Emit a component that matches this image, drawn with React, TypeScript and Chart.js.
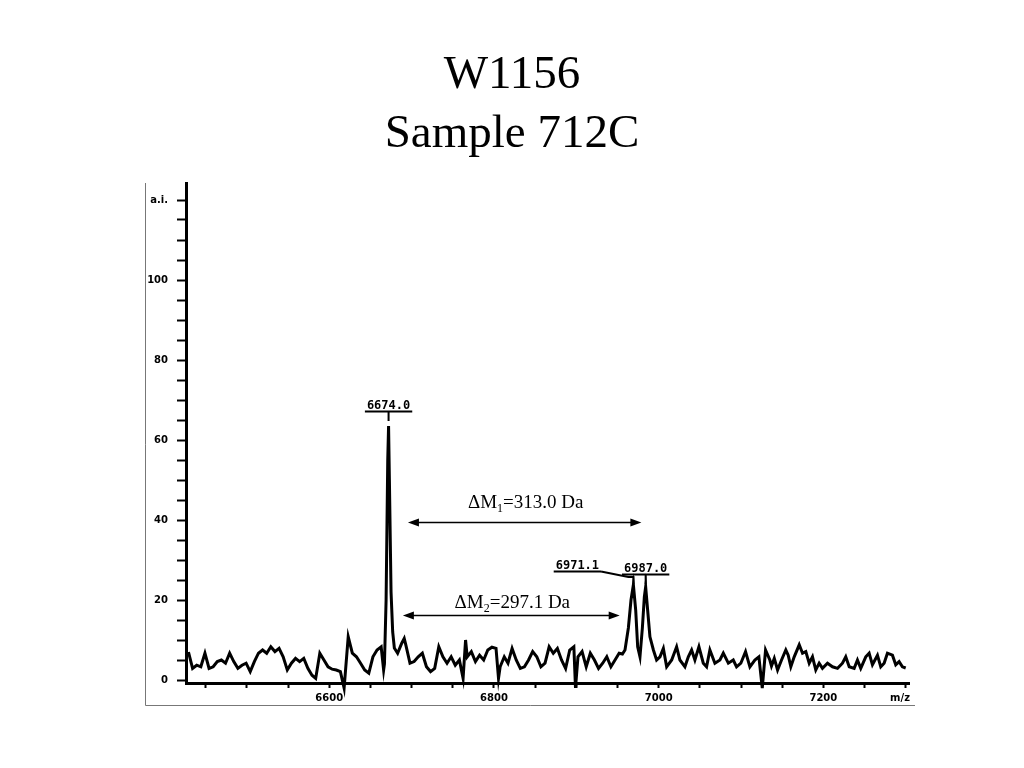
import React, { useEffect, useRef } from 'react';
import { Chart, registerables } from 'chart.js';

Chart.register(...registerables);

const titleLines = ['W1156', 'Sample 712C'];

const mzValues = [
  6429, 6434, 6439, 6444, 6449, 6454, 6459, 6464, 6469, 6474, 6479, 6484, 6489, 6494, 6499, 6504,
  6509, 6514, 6519, 6524, 6529, 6534, 6539, 6544, 6549, 6554, 6559, 6564, 6569, 6574, 6579, 6583.5,
  6588.5, 6593.5, 6598.5, 6603.5, 6608.5, 6613.5, 6618, 6623, 6628, 6633, 6638, 6643, 6648, 6653,
  6658, 6663, 6666, 6667, 6669, 6671, 6672, 6673, 6675, 6677, 6679, 6683, 6688, 6691, 6693, 6698,
  6703, 6708, 6713, 6718, 6723, 6728, 6733, 6738, 6743, 6748, 6753, 6758, 6762.5, 6765.5, 6767.5,
  6772.5, 6777.5, 6782.5, 6787.5, 6792.5, 6797.5, 6802.5, 6805.5, 6807.5, 6812.5, 6817, 6822, 6827,
  6832, 6837, 6842, 6847, 6852, 6857, 6862, 6867, 6872, 6877, 6882, 6887, 6892, 6897, 6899, 6902,
  6907, 6912, 6917, 6922, 6927, 6932, 6937, 6942, 6947, 6952, 6956, 6959.1, 6963.2, 6966.4, 6969.3,
  6972.1, 6974.5, 6977.3, 6980.2, 6982.6, 6984.2, 6986.6, 6989.4, 6993.6, 6997.5, 7001.6, 7005.7,
  7009.7, 7015.8, 7021.8, 7025.8, 7031.9, 7036, 7040, 7044, 7048.9, 7054.2, 7058.2, 7062.2, 7068.3,
  7074.4, 7078.5, 7084.6, 7090.6, 7094.6, 7099.8, 7105.5, 7110.8, 7116.8, 7121.7, 7125.8, 7129.8,
  7135, 7137, 7140.4, 7144.4, 7149.2, 7154.4, 7157.3, 7160.5, 7164.6, 7170.7, 7174.7, 7178.7, 7182.8,
  7186.8, 7190.8, 7194.9, 7198.9, 7205, 7211.1, 7217.2, 7223.2, 7227.2, 7231.4, 7237.4, 7241.4,
  7245.4, 7251.5, 7255.6, 7259.6, 7265.7, 7269.7, 7273.8, 7277.8, 7283.9, 7287.9, 7292, 7296, 7300,
];

const intensity = [
  7, 2.9, 3.7, 3.3, 6.7, 2.9, 3.3, 4.6, 5, 4.2, 6.7, 4.6, 2.9, 3.7, 4.2, 2.1,
  4.6, 6.7, 7.5, 6.7, 8.3, 7.1, 7.9, 5.8, 2.5, 4.2, 5.4, 4.6, 5.4, 2.9, 1.2, 0.4,
  6.7, 5, 3.3, 2.7, 2.5, 2.1, -2, 10.8, 6.7, 5.8, 4.2, 2.5, 1.7, 5.8,
  7.5, 8.3, 2.5, 4, 20, 55, 63.5, 50, 22, 12, 8, 6.7, 9.2, 10.4, 8.7, 4.2,
  4.6, 5.8, 6.7, 3.3, 2.1, 2.9, 8.3, 5.8, 4.2, 5.8, 3.7, 5, 0.4, 10, 5.8,
  7.1, 4.6, 6.2, 5, 7.5, 8.2, 7.9, 0.4, 3.3, 5.8, 4.2, 7.9, 5,
  2.9, 3.3, 5, 7.1, 5.8, 3.3, 4.2, 8.3, 6.7, 7.9, 5, 2.9, 7.5, 8.3, -2, 5.8,
  7.1, 3.3, 6.7, 5, 2.9, 4.2, 5.8, 3.3, 5, 6.7, 6.5, 7.5, 13, 20, 23.8,
  17.5, 8.3, 5.8, 13, 20.8, 23.3, 17.5, 10.8, 7.5, 5, 5.8, 7.9,
  3.3, 5, 8.3, 5, 3.3, 5.8, 7.5, 5, 8.3, 4.2, 3.3, 7.5, 4.2,
  5, 6.7, 4.2, 5, 3.3, 4.2, 7.1, 3.3, 5, 5.8, -2, 7.5,
  5, 3.5, 5.4, 2.5, 5, 7.5, 6.2, 3.3, 5.8, 8.8, 6.7, 7.1, 4.2,
  5.8, 2.5, 4.2, 2.9, 4.2, 3.3, 2.9, 4.2, 5.8, 3.3, 2.9, 5,
  2.9, 5.8, 6.7, 3.8, 6.2, 3.3, 4.2, 6.7, 6.2, 3.8, 4.6, 3.3, 3,
];

const yTickValues = [0, 5, 10, 15, 20, 25, 30, 35, 40, 45, 50, 55, 60, 65, 70, 75, 80, 85, 90, 95, 100, 105, 110, 115, 120];
const yLabelValues = [0, 20, 40, 60, 80, 100];
const yUnitLabel = 'a.i.';
const yUnitValue = 120;

const xTickValues = [6450, 6500, 6550, 6600, 6650, 6700, 6750, 6800, 6850, 6900, 6950, 7000, 7050, 7100, 7150, 7200, 7250, 7300];
const xLabelValues = [6600, 6800, 7000, 7200];
const xUnitLabel = 'm/z';

const peakPositions = [6672, 6969.3, 6984.2];
const peakTexts = ['6674.0', '6971.1', '6987.0'];

const deltaFrom = [6695.5, 6689.4];
const deltaTo = [6979, 6952.7];
const deltaLevel = [39.6, 16.25];
const deltaSubs = ['1', '2'];
const deltaValues = ['313.0', '297.1'];

const SERIF = "'Liberation Serif', 'Times New Roman', serif";
const TICKFONT = "'DejaVu Sans', 'Liberation Sans', sans-serif";
const PEAKFONT = "'DejaVu Sans Mono', 'Liberation Mono', monospace";

const annotPlugin = {
  id: 'annot',
  beforeDraw(chart: any) {
    const ctx = chart.ctx;
    const ca = chart.chartArea;
    ctx.save();
    ctx.strokeStyle = '#777';
    ctx.lineWidth = 1;
    ctx.beginPath();
    ctx.moveTo(145.5, ca.top);
    ctx.lineTo(145.5, 705.5);
    ctx.lineTo(915, 705.5);
    ctx.stroke();

    // title, centred on the page
    ctx.fillStyle = '#000';
    ctx.font = `47px ${SERIF}`;
    ctx.textAlign = 'center';
    ctx.textBaseline = 'alphabetic';
    ctx.fillText(titleLines[0], 512, 88);
    ctx.fillText(titleLines[1], 512, 147);
    ctx.restore();
  },
  afterDraw(chart: any) {
    const ctx = chart.ctx;
    const xs = chart.scales.x;
    const ys = chart.scales.y;
    const ca = chart.chartArea;
    ctx.save();

    // m/z unit label
    ctx.fillStyle = '#000';
    ctx.font = `bold 10px ${TICKFONT}`;
    ctx.textAlign = 'center';
    ctx.textBaseline = 'middle';
    ctx.fillText(xUnitLabel, ca.right - 9, 698);

    // delta arrows
    for (let i = 0; i < deltaFrom.length; i++) {
      const x1 = xs.getPixelForValue(deltaFrom[i]);
      const x2 = xs.getPixelForValue(deltaTo[i]);
      const y = Math.round(ys.getPixelForValue(deltaLevel[i])) + 0.5;
      ctx.strokeStyle = '#000';
      ctx.lineWidth = 1.5;
      ctx.beginPath();
      ctx.moveTo(x1 + 6, y);
      ctx.lineTo(x2 - 6, y);
      ctx.stroke();
      ctx.fillStyle = '#000';
      ctx.beginPath();
      ctx.moveTo(x1, y);
      ctx.lineTo(x1 + 11, y - 4);
      ctx.lineTo(x1 + 11, y + 4);
      ctx.closePath();
      ctx.fill();
      ctx.beginPath();
      ctx.moveTo(x2, y);
      ctx.lineTo(x2 - 11, y - 4);
      ctx.lineTo(x2 - 11, y + 4);
      ctx.closePath();
      ctx.fill();

      const main = 'ΔM';
      const rest = `=${deltaValues[i]} Da`;
      const bigFont = `19px ${SERIF}`;
      const subFont = `12px ${SERIF}`;
      ctx.font = bigFont;
      const w1 = ctx.measureText(main).width;
      const w3 = ctx.measureText(rest).width;
      ctx.font = subFont;
      const w2 = ctx.measureText(deltaSubs[i]).width;
      const total = w1 + w2 + w3;
      const cx = (x1 + x2) / 2 + 1;
      const baseY = i === 0 ? y - 15 : y - 8;
      let tx = cx - total / 2;
      ctx.textAlign = 'left';
      ctx.textBaseline = 'alphabetic';
      ctx.font = bigFont;
      ctx.fillText(main, tx, baseY);
      tx += w1;
      ctx.font = subFont;
      ctx.fillText(deltaSubs[i], tx, baseY + 4);
      tx += w2;
      ctx.font = bigFont;
      ctx.fillText(rest, tx, baseY);
    }

    // peak labels
    ctx.font = `bold 12px ${PEAKFONT}`;
    ctx.textAlign = 'center';
    ctx.textBaseline = 'alphabetic';
    ctx.fillStyle = '#000';
    ctx.strokeStyle = '#000';
    const labelLevels = [67.75, 27.75, 27];
    const labelShift = [0, -56, 0];
    for (let i = 0; i < peakPositions.length; i++) {
      const px = xs.getPixelForValue(peakPositions[i]);
      const ly = ys.getPixelForValue(labelLevels[i]);
      const lx = px + labelShift[i];
      ctx.fillText(peakTexts[i], lx, ly);
      const w = ctx.measureText(peakTexts[i]).width;
      ctx.lineWidth = 2;
      ctx.beginPath();
      ctx.moveTo(lx - w / 2 - 2, ly + 2.5);
      ctx.lineTo(lx + w / 2 + 2, ly + 2.5);
      ctx.stroke();
      ctx.beginPath();
      if (labelShift[i] !== 0) {
        ctx.moveTo(lx + w / 2 + 2, ly + 2.5);
        ctx.lineTo(px - 5, ly + 8);
        ctx.lineTo(px, ly + 8);
        ctx.lineTo(px, ly + 15);
      } else {
        ctx.moveTo(px, ly + 2.5);
        ctx.lineTo(px, ly + 12);
      }
      ctx.stroke();
    }
    ctx.restore();
  },
};

export default function App() {
  const ref = useRef<HTMLCanvasElement | null>(null);
  useEffect(() => {
    if (!ref.current) return;
    const data = mzValues.map((x, i) => ({ x, y: intensity[i] }));
    const chart = new Chart(ref.current, {
      type: 'line',
      data: {
        datasets: [
          {
            data,
            borderColor: '#000',
            borderWidth: 3,
            pointRadius: 0,
            tension: 0,
            fill: false,
            clip: false as any,
          },
        ],
      },
      options: {
        responsive: false,
        animation: false,
        layout: { padding: { left: 0, right: 115, top: 183, bottom: 0 } },
        plugins: {
          legend: { display: false },
          tooltip: { enabled: false },
          title: { display: false },
        },
        scales: {
          x: {
            type: 'linear',
            min: 6426,
            max: 7304,
            afterBuildTicks: (s: any) => {
              s.ticks = xTickValues.map((v) => ({ value: v }));
            },
            afterFit: (s: any) => {
              s.height = 85;
            },
            grid: { drawOnChartArea: false, drawTicks: true, tickLength: 5, tickWidth: 2, color: '#000' },
            border: { display: true, color: '#000', width: 3 },
            ticks: {
              autoSkip: false,
              maxRotation: 0,
              padding: 4,
              color: '#000',
              font: { family: TICKFONT, size: 10, weight: 'bold' },
              callback: (v: any) => (xLabelValues.includes(Number(v)) ? String(v) : ''),
            },
          },
          y: {
            type: 'linear',
            min: -0.75,
            max: 124.25,
            afterBuildTicks: (s: any) => {
              s.ticks = yTickValues.map((v) => ({ value: v }));
            },
            afterFit: (s: any) => {
              s.width = 186;
            },
            grid: { drawOnChartArea: false, drawTicks: true, tickLength: 9, tickWidth: 2, color: '#000' },
            border: { display: true, color: '#000', width: 3 },
            ticks: {
              autoSkip: false,
              padding: 9,
              color: '#000',
              font: { family: TICKFONT, size: 10, weight: 'bold' },
              callback: (v: any) => {
                const n = Number(v);
                if (n === yUnitValue) return yUnitLabel;
                return yLabelValues.includes(n) ? String(n) : '';
              },
            },
          },
        },
      } as any,
      plugins: [annotPlugin],
    });
    return () => chart.destroy();
  }, []);
  return (
    <div style={{ position: 'absolute', left: 0, top: 0, width: 1024, height: 768 }}>
      <canvas ref={ref} width={1024} height={768} style={{ display: 'block', width: 1024, height: 768 }} />
    </div>
  );
}
